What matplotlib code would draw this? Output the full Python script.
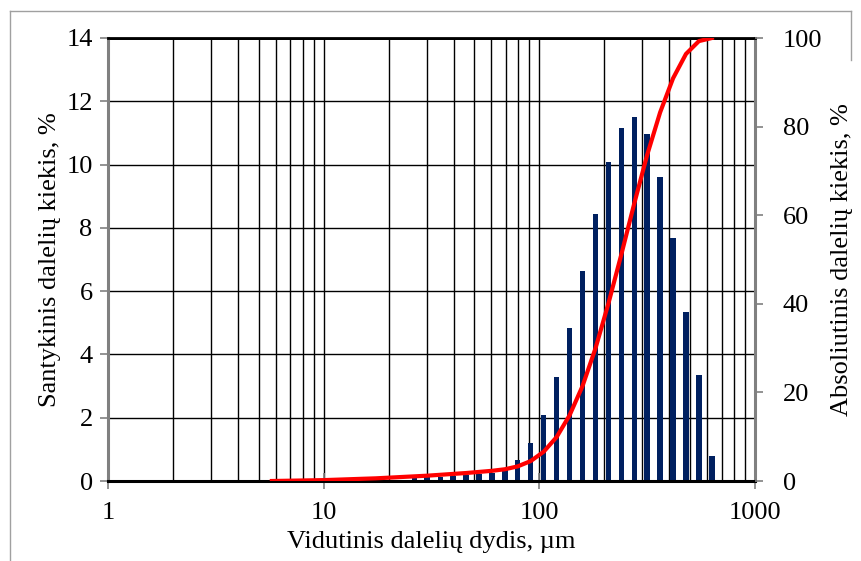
import numpy as np
import matplotlib.pyplot as plt
from matplotlib.ticker import FixedLocator, NullFormatter, FixedFormatter
from matplotlib.lines import Line2D

# dalelių dydis, um (log žingsnis)
size_um = [5.75, 6.61, 7.59, 8.71, 10.0, 11.5, 13.2, 15.1, 17.4, 20.0, 22.9, 26.3,
           30.2, 34.7, 39.8, 45.7, 52.5, 60.3, 69.2, 79.4, 91.2, 104.7, 120.2, 138.0,
           158.5, 182.0, 208.9, 239.9, 275.4, 316.2, 363.1, 416.9, 478.6, 549.5, 631.0]

# santykinis kiekis, %
rel_pct = [0.0, 0.0, 0.0, 0.0, 0.0, 0.0, 0.0, 0.0, 0.0, 0.0, 0.02, 0.08,
           0.12, 0.14, 0.17, 0.19, 0.22, 0.26, 0.34, 0.66, 1.21, 2.08, 3.30, 4.85,
           6.65, 8.45, 10.07, 11.14, 11.49, 10.98, 9.62, 7.67, 5.34, 3.35, 0.79]

# absoliutinis (suminis) kiekis, %
cum_pct = [0.0, 0.05, 0.1, 0.15, 0.2, 0.3, 0.4, 0.5, 0.6, 0.75, 0.9, 1.05,
           1.2, 1.4, 1.6, 1.8, 2.05, 2.3, 2.65, 3.3, 4.5, 6.6, 9.9, 14.8,
           21.4, 29.9, 40.0, 51.1, 62.6, 73.6, 83.2, 90.9, 96.4, 99.3, 100.0]

x_ticks = [1, 10, 100, 1000]
x_tick_labels = ['1', '10', '100', '1000']
y_left_ticks = [0, 2, 4, 6, 8, 10, 12, 14]
y_right_ticks = [0, 20, 40, 60, 80, 100]

plt.rcParams['font.family'] = ['Liberation Serif', 'DejaVu Serif']
FS = 19

fig = plt.figure(figsize=(8.61, 5.61), dpi=100)
ax = fig.add_axes([108 / 861, 1 - 481 / 561, (755 - 108) / 861, (481 - 38) / 561])

# stulpeliai (log ašyje - plotis pastovus dekadomis)
x = np.array(size_um)
half = 0.0125
left = x * 10 ** (-half)
width = x * (10 ** half - 10 ** (-half))
ax.bar(left, rel_pct, width=width, align='edge', color='#002060', zorder=3)

ax.set_xscale('log')
ax.set_xlim(1, 1000)
ax.set_ylim(0, 14)

# tinklelis
minor = [m * 10 ** d for d in range(0, 3) for m in range(2, 10)]
for v in minor + [10, 100]:
    ax.axvline(v, color='black', lw=1.0, zorder=1)
for v in y_left_ticks[1:]:
    ax.axhline(v, color='black', lw=1.0 if v < 14 else 2.0, zorder=1)

ax.xaxis.set_major_locator(FixedLocator(x_ticks))
ax.xaxis.set_major_formatter(FixedFormatter(x_tick_labels))
ax.xaxis.set_minor_locator(FixedLocator([]))
ax.xaxis.set_minor_formatter(NullFormatter())
ax.set_yticks(y_left_ticks)
ax.tick_params(axis='x', direction='inout', length=12, width=1.2, color='#808080',
               labelsize=FS, pad=9)
ax.tick_params(axis='y', direction='out', length=6, width=1.2, color='#808080',
               labelsize=FS, pad=5)

for s in ['left', 'right']:
    ax.spines[s].set_color('#808080')
    ax.spines[s].set_linewidth(2.2)
ax.spines['bottom'].set_color('black')
ax.spines['bottom'].set_linewidth(2.2)
ax.spines['top'].set_color('black')
ax.spines['top'].set_linewidth(2.0)
ax.spines['bottom'].set_zorder(5)

ax.set_xlabel('Vidutinis dalelių dydis, µm', fontsize=FS, labelpad=5)
ax.set_ylabel('Santykinis dalelių kiekis, %', fontsize=FS, labelpad=4)

# suminė kreivė
ax2 = ax.twinx()
ax2.plot(size_um, cum_pct, color='#ff0000', lw=3.0, solid_joinstyle='round', zorder=4)
ax2.set_ylim(0, 100)
ax2.set_yticks(y_right_ticks)
ax2.tick_params(axis='y', direction='out', length=6, width=1.2, color='#808080',
                labelsize=FS, pad=14)
for s in ax2.spines.values():
    s.set_visible(False)
ax2.set_ylabel('Absoliutinis dalelių kiekis, %', fontsize=FS, labelpad=6)

# rėmelis
fig.add_artist(Line2D([10 / 861, 10 / 861], [1 - 11 / 561, 0], color='#a0a0a0', lw=1.0))
fig.add_artist(Line2D([10 / 861, 851 / 861], [1 - 11 / 561, 1 - 11 / 561], color='#a0a0a0', lw=1.0))
fig.add_artist(Line2D([851 / 861, 851 / 861], [1 - 11 / 561, 1 - 60 / 561], color='#a0a0a0', lw=1.0))

fig.savefig('out.png', dpi=100)
